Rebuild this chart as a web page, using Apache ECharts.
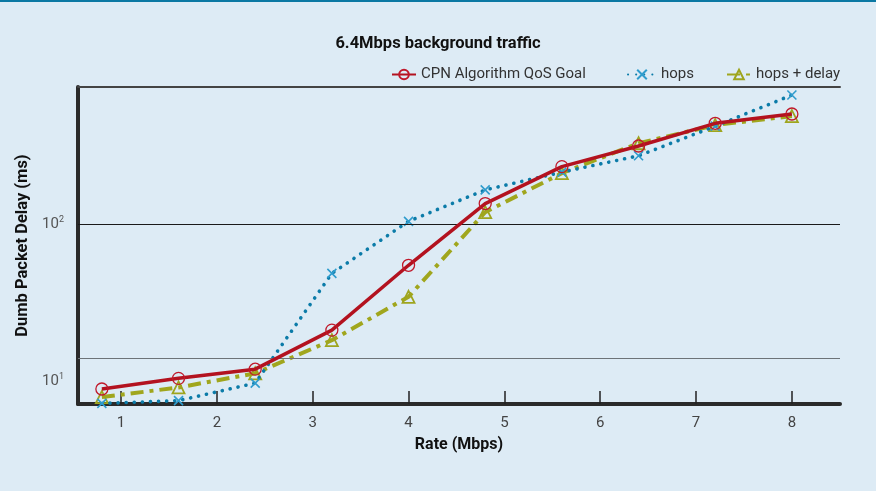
<!DOCTYPE html>
<html><head><meta charset="utf-8">
<script src="https://cdn.jsdelivr.net/npm/echarts@6/dist/echarts.min.js"></script>
<style>html,body{margin:0;padding:0;background:#ddebf5;}#c{width:876px;height:491px;}</style>
</head><body><div id="c"></div>
<script>
const titleText = '6.4Mbps background traffic';
const seriesNames = ['CPN Algorithm QoS Goal', 'hops', 'hops + delay'];
const rates = [0.8, 1.6, 2.4, 3.2, 4.0, 4.8, 5.6, 6.4, 7.2, 8.0];
const cpn = [8.9, 10.4, 11.9, 21.1, 54.6, 135, 232, 314, 438, 502];
const hops = [7.2, 7.5, 9.7, 48.5, 104, 165, 214, 272, 420, 663];
const hopsDelay = [7.9, 9.1, 11.2, 18.2, 34.4, 119, 211, 327, 427, 487];
const xTicks = [1, 2, 3, 4, 5, 6, 7, 8];
const yGridMajor = [100];
const yGridMinor = [14];

const pairs = arr => rates.map((r, i) => [r, arr[i]]);
const chart = echarts.init(document.getElementById('c'), null, {renderer: 'canvas'});
const FONT = 'Roboto';
const xMin = 0.551, xMax = 8.502, yMin = 7.14, yMax = 746;

chart.setOption({
  backgroundColor: '#ddebf5',
  animation: false,
  graphic: [{type: 'rect', shape: {x: 0, y: 0, width: 876, height: 2}, style: {fill: '#0a78a3'}}],
  title: {text: titleText, left: 'center', top: 30,
    textStyle: {fontFamily: FONT, fontSize: 16.5, fontWeight: 'bold', color: '#111'}},
  legend: [
    {data: [seriesNames[0]], left: 386, top: 62, itemWidth: 24, itemHeight: 12,
      textStyle: {fontFamily: FONT, fontSize: 15, color: '#333'}},
    {data: [seriesNames[1]], left: 622, top: 62, itemWidth: 28, itemHeight: 12, itemGap: 4,
      textStyle: {fontFamily: FONT, fontSize: 15, color: '#333'}},
    {data: [seriesNames[2]], left: 721, top: 62, itemWidth: 24, itemHeight: 12,
      textStyle: {fontFamily: FONT, fontSize: 15, color: '#333'}}
  ],
  grid: {left: 78, right: 36, top: 87, bottom: 87, containLabel: false},
  xAxis: [{
    type: 'value', min: xMin, max: xMax, position: 'bottom',
    name: 'Rate (Mbps)', nameLocation: 'middle', nameGap: 33,
    nameTextStyle: {fontFamily: FONT, fontSize: 16, fontWeight: 'bold', color: '#111'},
    axisLine: {show: true, onZero: false, lineStyle: {color: '#2a2a2a', width: 4}},
    axisTick: {show: true, inside: true, length: 13, customValues: xTicks, lineStyle: {color: '#222', width: 1.5}},
    axisLabel: {show: true, customValues: xTicks, margin: 12, fontFamily: FONT, fontSize: 15, color: '#444'},
    splitLine: {show: false}
  }, {
    type: 'value', min: xMin, max: xMax, position: 'top',
    axisLine: {show: true, onZero: false, lineStyle: {color: '#444', width: 2}},
    axisTick: {show: false}, axisLabel: {show: false}, splitLine: {show: false}
  }],
  yAxis: {
    type: 'log', logBase: 10, min: yMin, max: yMax,
    name: 'Dumb Packet Delay (ms)', nameLocation: 'middle', nameGap: 42, nameRotate: 90,
    nameTextStyle: {fontFamily: FONT, fontSize: 16.5, fontWeight: 'bold', color: '#111'},
    axisLine: {show: true, onZero: false, lineStyle: {color: '#2a2a2a', width: 4}},
    axisTick: {show: false},
    splitLine: {show: false},
    axisLabel: {
      margin: 14, showMinLabel: false, showMaxLabel: false,
      formatter: v => {
        const e = Math.log10(v);
        if (Math.abs(e - Math.round(e)) > 1e-6) return '';
        return '{b|10}{s|' + Math.round(e) + '}';
      },
      rich: {
        b: {fontFamily: FONT, fontSize: 15, color: '#555'},
        s: {fontFamily: FONT, fontSize: 9, color: '#555', padding: [0, 0, 8, 0]}
      }
    }
  },
  series: [{
    name: seriesNames[0], type: 'line', data: pairs(cpn), clip: false, z: 5,
    symbol: 'circle', symbolSize: 12,
    itemStyle: {color: 'rgba(0,0,0,0)', borderColor: '#c0182a', borderWidth: 1.3},
    lineStyle: {color: '#b3121f', width: 3.5},
    markLine: {
      silent: true, symbol: 'none', label: {show: false}, animation: false,
      data: [
        ...yGridMajor.map(v => ({yAxis: v, lineStyle: {color: '#1a1a1a', width: 1, type: 'solid'}})),
        ...yGridMinor.map(v => ({yAxis: v, lineStyle: {color: '#6d7378', width: 1.2, type: 'solid'}}))
      ]
    }
  }, {
    name: seriesNames[1], type: 'line', data: pairs(hops), clip: false, z: 4,
    symbol: 'path://M0,0L10,10M10,0L0,10', symbolSize: 9,
    itemStyle: {color: 'rgba(0,0,0,0)', borderColor: '#2f9ccd', borderWidth: 1.6},
    lineStyle: {color: '#0b7ba8', width: 3.6, type: [0.1, 8], cap: 'round'}
  }, {
    name: seriesNames[2], type: 'line', data: pairs(hopsDelay), clip: false, z: 3,
    symbol: 'triangle', symbolSize: 12,
    itemStyle: {color: 'rgba(0,0,0,0)', borderColor: '#9ea51e', borderWidth: 1.8},
    lineStyle: {color: '#a0a61d', width: 4, type: [13, 6, 4, 6]}
  }]
});
</script></body></html>
